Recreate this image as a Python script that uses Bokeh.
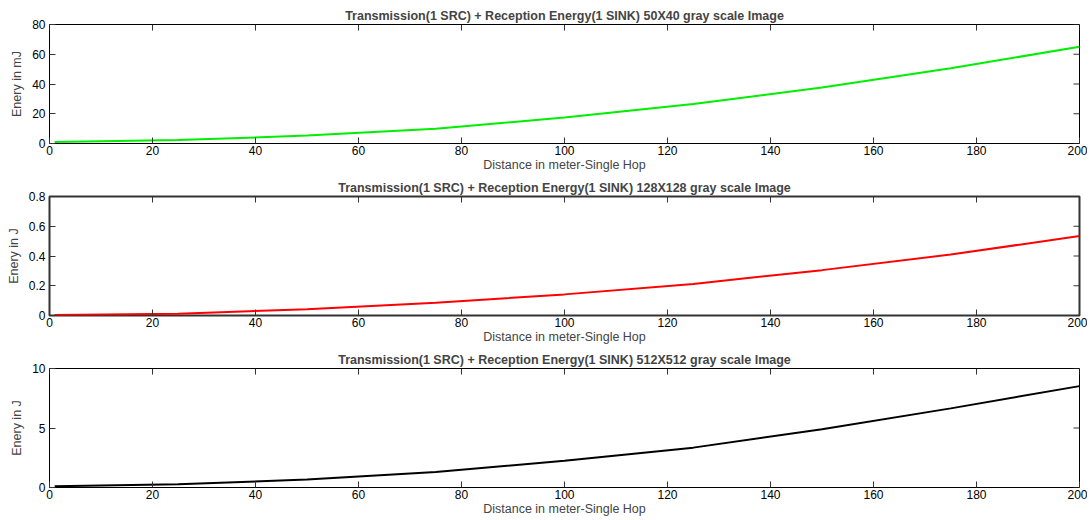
from bokeh.plotting import figure
from bokeh.layouts import column
from bokeh.models import Range1d, FixedTicker
from bokeh.embed import file_html
from bokeh.resources import INLINE

distance = [1, 25, 50, 75, 100, 125, 150, 175, 200]
energy_50x40_mJ = [1.0, 2.3, 5.3, 9.9, 17.4, 26.5, 37.6, 50.6, 65.0]
energy_128x128_J = [0.003, 0.012, 0.042, 0.085, 0.142, 0.212, 0.305, 0.41, 0.534]
energy_512x512_J = [0.1, 0.27, 0.67, 1.3, 2.24, 3.35, 4.9, 6.65, 8.52]

x_ticks = [0, 20, 40, 60, 80, 100, 120, 140, 160, 180, 200]

panels = [
    dict(title="Transmission(1 SRC) + Reception Energy(1 SINK) 50X40 gray scale Image",
         y=energy_50x40_mJ, ymax=80, yticks=[0, 20, 40, 60, 80], ylabel="Enery in mJ",
         color="#00ee00", top=24, axis_w=1, axis_c="black"),
    dict(title="Transmission(1 SRC) + Reception Energy(1 SINK) 128X128 gray scale Image",
         y=energy_128x128_J, ymax=0.8, yticks=[0, 0.2, 0.4, 0.6, 0.8], ylabel="Enery in J",
         color="#ff0000", top=22, axis_w=2, axis_c="#333333"),
    dict(title="Transmission(1 SRC) + Reception Energy(1 SINK) 512X512 gray scale Image",
         y=energy_512x512_J, ymax=10, yticks=[0, 5, 10], ylabel="Enery in J",
         color="#000000", top=22, axis_w=1, axis_c="black"),
]

FONT = "Liberation Sans"
FW, FH = 1030, 119
TICK = 6
figs = []
for pn in panels:
    xmax = 200
    ymax = pn["ymax"]
    p = figure(width=1087, height=172, output_backend="svg", toolbar_location=None,
               x_range=Range1d(0, xmax), y_range=Range1d(0, ymax),
               frame_width=FW, frame_height=FH,
               min_border_left=49, min_border_right=8, min_border_top=pn["top"], min_border_bottom=2)
    p.title.text = pn["title"]
    p.title.text_font = FONT
    p.title.text_font_size = "12.5px"
    p.title.text_font_style = "bold"
    p.title.align = "center"
    p.title.standoff = 3
    p.grid.visible = False
    p.outline_line_color = pn["axis_c"]
    p.outline_line_width = pn["axis_w"]
    p.outline_line_alpha = 1

    p.line(distance, pn["y"], line_color=pn["color"], line_width=2)

    # inward ticks on the top and right edges (box on)
    dy = TICK * ymax / FH
    dx = TICK * xmax / FW
    p.segment(x0=x_ticks, x1=x_ticks, y0=[ymax] * len(x_ticks), y1=[ymax - dy] * len(x_ticks),
              line_color="#333333", line_width=1)
    p.segment(x0=[xmax] * len(pn["yticks"]), x1=[xmax - dx] * len(pn["yticks"]),
              y0=pn["yticks"], y1=pn["yticks"], line_color="#333333", line_width=1)

    for ax in p.xaxis:
        ax.ticker = FixedTicker(ticks=x_ticks)
        ax.axis_label = "Distance in meter-Single Hop"
        ax.axis_label_standoff = 0
        ax.major_label_standoff = 2
    for ax in p.yaxis:
        ax.ticker = FixedTicker(ticks=pn["yticks"])
        ax.axis_label = pn["ylabel"]
        ax.axis_label_standoff = 5
        ax.major_label_standoff = 4
    for ax in list(p.xaxis) + list(p.yaxis):
        ax.major_tick_in = TICK
        ax.major_tick_out = 0
        ax.minor_tick_line_color = None
        ax.major_label_text_font = FONT
        ax.major_label_text_font_size = "12px"
        ax.major_label_text_color = "black"
        ax.axis_label_text_font = FONT
        ax.axis_label_text_font_size = "12.5px"
        ax.axis_label_text_font_style = "normal"
        ax.axis_line_color = None
        ax.major_tick_line_color = "#333333"
    figs.append(p)

layout = column(*figs, spacing=0)
open("out.html", "w").write(file_html(layout, INLINE))
